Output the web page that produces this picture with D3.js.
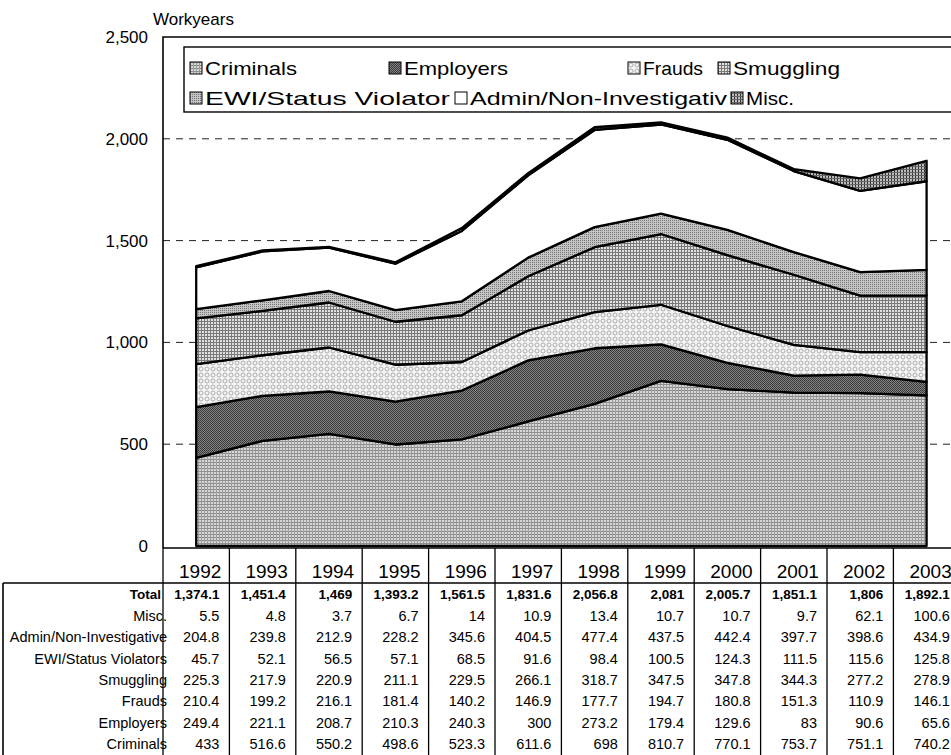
<!DOCTYPE html>
<html>
<head>
<meta charset="utf-8">
<script src="https://cdn.jsdelivr.net/npm/d3@7"></script>
<style>
  body { margin: 0; background: #fff; }
  svg { font-family: "Liberation Sans", Arial, sans-serif; }
</style>
</head>
<body>
<svg id="chart" width="951" height="755"></svg>
<script>
const years = ["1992","1993","1994","1995","1996","1997","1998","1999","2000","2001","2002","2003"]
const criminals = [433, 516.6, 550.2, 498.6, 523.3, 611.6, 698, 810.7, 770.1, 753.7, 751.1, 740.2]
const employers = [249.4, 221.1, 208.7, 210.3, 240.3, 300, 273.2, 179.4, 129.6, 83, 90.6, 65.6]
const frauds = [210.4, 199.2, 216.1, 181.4, 140.2, 146.9, 177.7, 194.7, 180.8, 151.3, 110.9, 146.1]
const smuggling = [225.3, 217.9, 220.9, 211.1, 229.5, 266.1, 318.7, 347.5, 347.8, 344.3, 277.2, 278.9]
const ewi = [45.7, 52.1, 56.5, 57.1, 68.5, 91.6, 98.4, 100.5, 124.3, 111.5, 115.6, 125.8]
const admin = [204.8, 239.8, 212.9, 228.2, 345.6, 404.5, 477.4, 437.5, 442.4, 397.7, 398.6, 434.9]
const misc = [5.5, 4.8, 3.7, 6.7, 14, 10.9, 13.4, 10.7, 10.7, 9.7, 62.1, 100.6]
const totals = ["1,374.1","1,451.4","1,469","1,393.2","1,561.5","1,831.6","2,056.8","2,081","2,005.7","1,851.1","1,806","1,892.1"]
const yTicks = [0, 500, 1000, 1500, 2000, 2500]

// series in stacking order (bottom to top)
const series = [
  { key: "Criminals", legend: "Criminals", values: criminals },
  { key: "Employers", legend: "Employers", values: employers },
  { key: "Frauds", legend: "Frauds", values: frauds },
  { key: "Smuggling", legend: "Smuggling", values: smuggling },
  { key: "EWI/Status Violators", legend: "EWI/Status Violator", values: ewi },
  { key: "Admin/Non-Investigative", legend: "Admin/Non-Investigativ", values: admin },
  { key: "Misc.", legend: "Misc.", values: misc }
]

const svg = d3.select("#chart")
const defs = svg.append("defs")

// halftone-like patterns, one per series
function makePattern(id, size, base, draw) {
  const p = defs.append("pattern").attr("id", id)
    .attr("patternUnits", "userSpaceOnUse").attr("width", size).attr("height", size)
  p.append("rect").attr("width", size).attr("height", size).attr("fill", base)
  draw(p)
}
makePattern("p-criminals", 3, "#d6d6d6", p => {
  p.append("rect").attr("width", 3).attr("height", 1).attr("fill", "#8a8a8a")
  p.append("rect").attr("width", 1).attr("height", 3).attr("fill", "#9a9a9a")
})
makePattern("p-employers", 2, "#858585", p => {
  p.append("rect").attr("width", 1).attr("height", 1).attr("fill", "#333")
  p.append("rect").attr("x", 1).attr("y", 1).attr("width", 1).attr("height", 1).attr("fill", "#3c3c3c")
})
makePattern("p-frauds", 6, "#f4f4f4", p => {
  p.append("circle").attr("cx", 3).attr("cy", 3).attr("r", 2).attr("fill", "none")
    .attr("stroke", "#9a9a9a").attr("stroke-width", 0.8)
})
makePattern("p-smuggling", 3, "#e0e0e0", p => {
  p.append("rect").attr("width", 3).attr("height", 1).attr("fill", "#7a7a7a")
  p.append("rect").attr("width", 1).attr("height", 3).attr("fill", "#7a7a7a")
})
makePattern("p-ewi", 2, "#c4c4c4", p => {
  p.append("rect").attr("width", 1).attr("height", 1).attr("fill", "#777")
})
makePattern("p-admin", 4, "#ffffff", p => {})
makePattern("p-misc", 3, "#bdbdbd", p => {
  p.append("rect").attr("width", 1).attr("height", 3).attr("fill", "#333")
  p.append("rect").attr("width", 3).attr("height", 1).attr("y", 1).attr("fill", "#666")
})
const fills = ["p-criminals","p-employers","p-frauds","p-smuggling","p-ewi","p-admin","p-misc"]

// layout
const plotLeft = 163, plotTop = 37, plotBottom = 546
const colW = 66.4
const x = d3.scaleBand().domain(years).range([plotLeft, plotLeft + colW * years.length])
const cx = d => x(d) + x.bandwidth() / 2
const y = d3.scaleLinear().domain([0, 2500]).range([plotBottom, plotTop])

// gridlines
svg.append("g")
  .selectAll("line")
  .data(yTicks.filter(t => t > 0 && t < 2500))
  .join("line")
  .attr("x1", plotLeft).attr("x2", 951)
  .attr("y1", d => y(d)).attr("y2", d => y(d))
  .attr("stroke", "#222").attr("stroke-width", 1).attr("stroke-dasharray", "7,6")

// stacked areas
const table = years.map((yr, i) => {
  const row = { year: yr }
  series.forEach(s => { row[s.key] = s.values[i] })
  return row
})
const stacked = d3.stack().keys(series.map(s => s.key))(table)
const area = d3.area()
  .x(d => cx(d.data.year))
  .y0(d => y(d[0]))
  .y1(d => y(d[1]))

svg.append("g")
  .selectAll("path")
  .data(stacked)
  .join("path")
  .attr("d", area)
  .attr("fill", (d, i) => `url(#${fills[i]})`)
  .attr("stroke", "#000")
  .attr("stroke-width", 2.3)
  .attr("stroke-linejoin", "round")

// plot frame
svg.append("path")
  .attr("d", `M${plotLeft},${plotBottom + 2}V${plotTop}H951`)
  .attr("fill", "none").attr("stroke", "#000").attr("stroke-width", 1.6)

// y axis labels
svg.append("g")
  .selectAll("text")
  .data(yTicks)
  .join("text")
  .attr("x", 148).attr("y", d => y(d) + 6)
  .attr("text-anchor", "end")
  .attr("font-size", 17)
  .text(d => d3.format(",")(d))

svg.append("text").attr("x", 153).attr("y", 25).attr("font-size", 17).text("Workyears")

// legend (the scanned legend text is stretched wide, so each label gets a fixed width)
const legend = svg.append("g")
legend.append("rect").attr("x", 184).attr("y", 47).attr("width", 800).attr("height", 65)
  .attr("fill", "#fff").attr("stroke", "#000").attr("stroke-width", 1.4)
const legendPos = [[190, 68, 92], [389, 68, 104], [628, 68, 60], [718, 68, 107],
                   [190, 98, 245], [455, 98, 257], [731, 98, 48]]
const items = legend.selectAll("g.item")
  .data(series)
  .join("g")
  .attr("class", "item")
  .attr("transform", (d, i) => `translate(${legendPos[i][0]},${legendPos[i][1]})`)
items.append("text").attr("x", 15).attr("y", 0).attr("dy", "0.35em")
  .attr("font-size", 19)
  .attr("textLength", (d, i) => legendPos[i][2])
  .attr("lengthAdjust", "spacingAndGlyphs")
  .text(d => d.legend)
items.append("rect").attr("x", 0).attr("y", -6).attr("width", 12).attr("height", 12)
  .attr("fill", (d, i) => `url(#${fills[i]})`).attr("stroke", "#000").attr("stroke-width", 1)

// data table
const headerTop = 548, rowTop = 583, rowH = 21.3
const rows = [
  { label: "Total", vals: totals, bold: true },
  { label: "Misc.", vals: misc },
  { label: "Admin/Non-Investigative", vals: admin },
  { label: "EWI/Status Violators", vals: ewi },
  { label: "Smuggling", vals: smuggling },
  { label: "Frauds", vals: frauds },
  { label: "Employers", vals: employers },
  { label: "Criminals", vals: criminals }
]
const tbl = svg.append("g")
tbl.append("line").attr("x1", plotLeft).attr("x2", 951).attr("y1", headerTop).attr("y2", headerTop)
  .attr("stroke", "#000").attr("stroke-width", 1.6)
tbl.append("line").attr("x1", 3).attr("x2", 951).attr("y1", rowTop).attr("y2", rowTop)
  .attr("stroke", "#000").attr("stroke-width", 1.6)
tbl.append("line").attr("x1", 3).attr("x2", 3).attr("y1", rowTop).attr("y2", 755)
  .attr("stroke", "#000").attr("stroke-width", 1.6)
tbl.selectAll("line.col")
  .data(years.map(d => x(d)))
  .join("line")
  .attr("class", "col")
  .attr("x1", d => d).attr("x2", d => d)
  .attr("y1", headerTop).attr("y2", 755)
  .attr("stroke", "#000").attr("stroke-width", 1.3)

tbl.selectAll("text.year")
  .data(years)
  .join("text")
  .attr("class", "year")
  .attr("x", d => cx(d) + 4).attr("y", 578)
  .attr("text-anchor", "middle").attr("font-size", 19)
  .text(d => d)

const rowG = tbl.selectAll("g.row")
  .data(rows)
  .join("g")
  .attr("class", "row")
  .attr("transform", (d, i) => `translate(0,${rowTop + rowH * i + rowH / 2 + 1})`)
  .attr("font-weight", d => d.bold ? "bold" : "normal")
rowG.append("text")
  .attr("x", d => d.bold ? 161 : 167).attr("dy", "0.35em").attr("text-anchor", "end")
  .attr("font-size", d => d.bold ? 13.5 : 14.5)
  .text(d => d.label)
rowG.selectAll("text.v")
  .data(d => d.vals.map((v, i) => ({ v, yr: years[i], bold: d.bold })))
  .join("text")
  .attr("class", "v")
  .attr("x", d => x(d.yr) + colW - 10).attr("dy", "0.35em")
  .attr("text-anchor", "end").attr("font-size", d => d.bold ? 13.5 : 14.5)
  .text(d => d.v)
</script>
</body>
</html>
